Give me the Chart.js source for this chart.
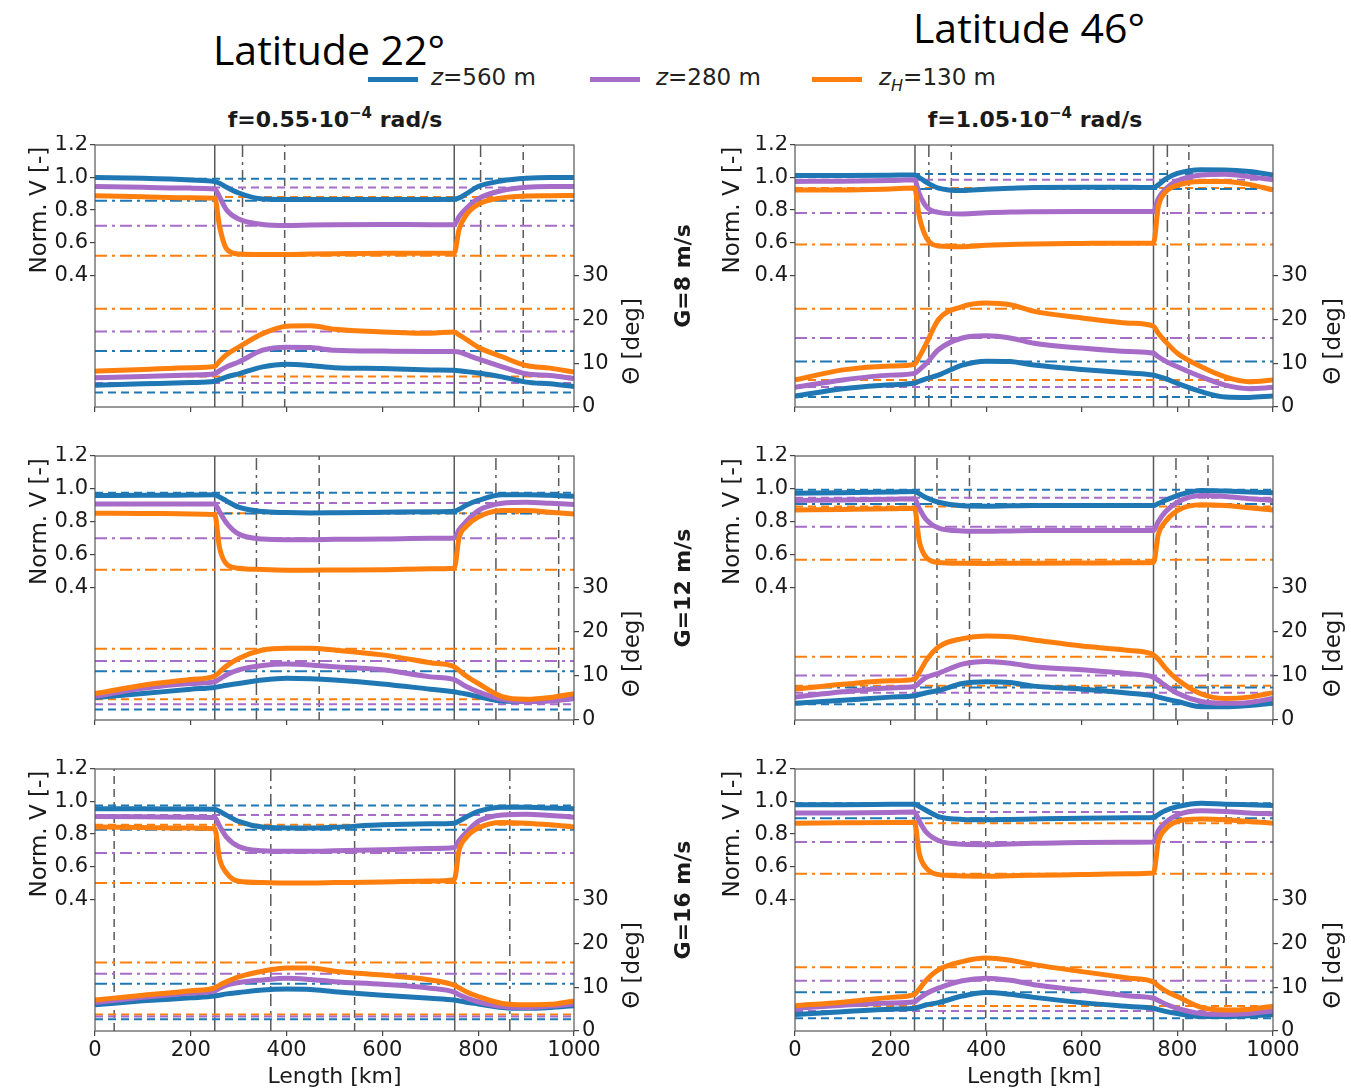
<!DOCTYPE html>
<html>
<head>
<meta charset="utf-8">
<script src="https://cdn.jsdelivr.net/npm/chart.js@4.4.1/dist/chart.umd.min.js"></script>
<style>
  body { margin: 0; background: #fff; width: 1351px; height: 1091px; position: relative; overflow: hidden;
         font-family: "DejaVu Sans", sans-serif; color: #1a1a1a; }
  canvas { position: absolute; }
  .lat { position: absolute; font-family: "Open Sans", sans-serif; font-size: 41px; transform: translateX(-50%); white-space: nowrap; color: #000; }
  .sub { position: absolute; font-weight: bold; font-size: 22px; transform: translate(-50%, -50%); white-space: nowrap; }
  .sub sup { font-size: 15px; }
  .grow { position: absolute; font-weight: bold; font-size: 22px; transform: translate(-50%, -50%) rotate(-90deg); white-space: nowrap; z-index: 2; }
  .lg { position: absolute; height: 5px; width: 50px; top: 77px; }
  .lt { position: absolute; top: 64px; font-size: 23px; white-space: nowrap; color: #222; }
  .lt i { font-style: oblique; }
  .lt sub { font-size: 16px; font-style: oblique; }
</style>
</head>
<body>
<div class="lat" style="left:329px; top:21px;">Latitude 22°</div>
<div class="lat" style="left:1029px; top:-1px;">Latitude 46°</div>

<div class="lg" style="left:368px; background:#1f77b4;"></div>
<div class="lt" style="left:431px;"><i>z</i>=560 m</div>
<div class="lg" style="left:590px; background:#a66cc8;"></div>
<div class="lt" style="left:656px;"><i>z</i>=280 m</div>
<div class="lg" style="left:812px; background:#ff7f0e;"></div>
<div class="lt" style="left:879px;"><i>z</i><sub>H</sub>=130 m</div>

<div class="sub" style="left:335px; top:118px;">f=0.55·10<sup>−4</sup> rad/s</div>
<div class="sub" style="left:1035px; top:118px;">f=1.05·10<sup>−4</sup> rad/s</div>

<div class="grow" style="left:682px; top:276px;">G=8 m/s</div>
<div class="grow" style="left:682px; top:588px;">G=12 m/s</div>
<div class="grow" style="left:682px; top:900px;">G=16 m/s</div>

<canvas id="c22g8" width="680" height="284" style="left:0px; top:135px;"></canvas>
<canvas id="c46g8" width="671" height="284" style="left:680px; top:135px;"></canvas>
<canvas id="c22g12" width="680" height="286" style="left:0px; top:446px;"></canvas>
<canvas id="c46g12" width="671" height="286" style="left:680px; top:446px;"></canvas>
<canvas id="c22g16" width="680" height="332" style="left:0px; top:759px;"></canvas>
<canvas id="c46g16" width="671" height="332" style="left:680px; top:759px;"></canvas>

<script>
// x positions where the curves were read (km)
const lengthKm = [0, 100, 200, 250, 260, 275, 300, 350, 400, 450, 500, 600, 700, 750, 760, 775, 800, 850, 900, 950, 1000];
const lengthTicks = [0, 200, 400, 600, 800, 1000];
const velTicks = [0.4, 0.6, 0.8, 1.0, 1.2];
const thetaTicks = [0, 10, 20, 30];

// latitude 22, G=8
const vel22g8Blue   = [1.0, 0.995, 0.985, 0.975, 0.965, 0.94, 0.905, 0.868, 0.865, 0.865, 0.865, 0.865, 0.865, 0.868, 0.875, 0.9, 0.945, 0.98, 0.995, 1.0, 1.0];
const vel22g8Purple = [0.945, 0.94, 0.935, 0.93, 0.88, 0.8, 0.745, 0.712, 0.705, 0.708, 0.71, 0.712, 0.71, 0.71, 0.76, 0.81, 0.87, 0.92, 0.94, 0.945, 0.945];
const vel22g8Orange = [0.888, 0.882, 0.876, 0.873, 0.7, 0.56, 0.53, 0.527, 0.527, 0.53, 0.532, 0.535, 0.535, 0.537, 0.68, 0.77, 0.835, 0.875, 0.886, 0.888, 0.89];
const th22g8Blue    = [5.0, 5.3, 5.6, 5.9, 6.3, 6.9, 7.6, 9.2, 9.8, 9.5, 9.0, 8.8, 8.5, 8.4, 8.3, 8.1, 7.8, 6.9, 5.7, 5.3, 4.7];
const th22g8Purple  = [6.7, 7.0, 7.3, 7.6, 8.3, 9.2, 10.3, 13.0, 13.7, 13.6, 13.0, 12.8, 12.7, 12.7, 12.6, 12.0, 11.0, 9.2, 7.6, 7.2, 6.5];
const th22g8Orange  = [8.2, 8.6, 9.0, 9.3, 10.5, 12.0, 13.7, 16.8, 18.5, 18.6, 17.8, 17.2, 16.9, 17.2, 16.5, 15.5, 13.7, 11.5, 9.5, 8.9, 8.0];
const refVelDash22g8 = [0.992, 0.939, 0.88];
const refVelDot22g8  = [0.857, 0.704, 0.52];
const refThDash22g8  = [3.3, 5.5, 7.0];
const refThDot22g8   = [12.8, 17.3, 22.5];
const vlineSolid22g8 = [250, 750];
const vlineDot22g8   = [308, 805];
const vlineDash22g8  = [396, 894];

// latitude 46, G=8
const vel46g8Blue   = [1.012, 1.012, 1.014, 1.016, 1.0, 0.97, 0.935, 0.92, 0.928, 0.934, 0.939, 0.94, 0.94, 0.939, 0.955, 0.99, 1.025, 1.048, 1.047, 1.037, 1.016];
const vel46g8Purple = [0.976, 0.978, 0.982, 0.986, 0.9, 0.82, 0.786, 0.776, 0.783, 0.788, 0.79, 0.792, 0.792, 0.792, 0.87, 0.93, 0.98, 1.015, 1.02, 1.005, 0.986];
const vel46g8Orange = [0.924, 0.924, 0.93, 0.935, 0.76, 0.63, 0.58, 0.575, 0.584, 0.588, 0.592, 0.595, 0.597, 0.598, 0.82, 0.91, 0.952, 0.975, 0.976, 0.958, 0.924];
const th46g8Blue    = [2.5, 4.2, 5.1, 5.5, 5.9, 6.5, 7.3, 9.6, 10.5, 10.4, 9.6, 8.6, 7.8, 7.3, 7.0, 6.5, 5.4, 3.5, 2.3, 2.2, 2.5];
const th46g8Purple  = [4.5, 6.2, 7.3, 7.7, 8.5, 10.0, 13.1, 15.8, 16.3, 15.8, 14.6, 13.5, 12.7, 12.3, 11.5, 10.5, 9.2, 6.9, 5.0, 4.2, 4.5];
const th46g8Orange  = [6.2, 8.5, 9.4, 9.8, 11.5, 14.6, 20.0, 23.0, 23.8, 23.4, 21.9, 20.4, 19.2, 18.5, 16.9, 15.0, 12.3, 9.2, 6.9, 5.8, 6.2];
const refVelDash46g8 = [1.022, 0.986, 0.935];
const refVelDot46g8  = [0.93, 0.782, 0.588];
const refThDash46g8  = [2.3, 4.6, 6.2];
const refThDot46g8   = [10.4, 15.8, 22.5];
const vlineSolid46g8 = [251, 750];
const vlineDot46g8   = [280, 779];
const vlineDash46g8  = [327, 824];

// latitude 22, G=12
const vel22g12Blue   = [0.959, 0.96, 0.962, 0.963, 0.95, 0.925, 0.888, 0.861, 0.855, 0.853, 0.854, 0.857, 0.86, 0.863, 0.875, 0.9, 0.929, 0.963, 0.963, 0.96, 0.955];
const vel22g12Purple = [0.908, 0.908, 0.908, 0.908, 0.86, 0.79, 0.724, 0.694, 0.69, 0.69, 0.692, 0.694, 0.698, 0.7, 0.75, 0.8, 0.867, 0.912, 0.918, 0.912, 0.904];
const vel22g12Orange = [0.851, 0.85, 0.847, 0.843, 0.64, 0.54, 0.516, 0.508, 0.504, 0.504, 0.505, 0.506, 0.512, 0.516, 0.7, 0.77, 0.827, 0.867, 0.867, 0.857, 0.847];
const th22g12Blue    = [5.1, 6.0, 7.0, 7.4, 7.6, 7.9, 8.3, 9.1, 9.5, 9.4, 9.1, 8.2, 7.0, 6.4, 6.2, 5.9, 5.3, 4.3, 4.2, 4.5, 4.9];
const th22g12Purple  = [5.4, 7.2, 8.3, 8.7, 9.3, 10.3, 11.4, 12.4, 12.7, 12.5, 12.1, 11.4, 9.8, 9.2, 8.6, 7.6, 6.4, 4.7, 4.2, 4.3, 4.9];
const th22g12Orange  = [6.0, 7.9, 9.2, 10.0, 10.9, 12.3, 14.0, 15.9, 16.3, 16.3, 15.9, 14.8, 13.0, 12.1, 11.3, 10.0, 8.3, 5.3, 4.7, 5.1, 6.0];
const refVelDash22g12 = [0.976, 0.914, 0.851];
const refVelDot22g12  = [0.85, 0.698, 0.506];
const refThDash22g12  = [2.4, 3.6, 4.7];
const refThDot22g12   = [11.1, 13.4, 16.2];
const vlineSolid22g12 = [250, 750];
const vlineDot22g12   = [337, 837];
const vlineDash22g12  = [468, 968];

// latitude 46, G=12
const vel46g12Blue   = [0.973, 0.976, 0.98, 0.984, 0.97, 0.945, 0.918, 0.896, 0.894, 0.896, 0.898, 0.898, 0.898, 0.898, 0.91, 0.93, 0.959, 0.99, 0.986, 0.98, 0.976];
const vel46g12Purple = [0.929, 0.932, 0.936, 0.939, 0.88, 0.81, 0.761, 0.743, 0.741, 0.743, 0.745, 0.745, 0.745, 0.745, 0.8, 0.86, 0.918, 0.959, 0.953, 0.94, 0.929];
const vel46g12Orange = [0.871, 0.874, 0.878, 0.882, 0.68, 0.58, 0.551, 0.546, 0.545, 0.546, 0.546, 0.547, 0.549, 0.551, 0.72, 0.8, 0.867, 0.902, 0.898, 0.885, 0.871];
const th46g12Blue    = [3.8, 4.5, 5.2, 5.5, 5.8, 6.2, 6.7, 8.3, 8.7, 8.5, 7.7, 7.0, 6.1, 5.5, 5.2, 4.8, 4.2, 3.0, 3.0, 3.3, 3.8];
const th46g12Purple  = [5.2, 6.4, 7.3, 7.6, 8.5, 9.7, 10.6, 12.7, 13.3, 12.9, 12.1, 11.4, 10.5, 9.7, 9.0, 7.8, 6.1, 4.2, 3.8, 4.0, 4.9];
const th46g12Orange  = [7.0, 8.1, 8.9, 9.3, 10.8, 13.6, 16.6, 18.5, 19.1, 18.9, 18.2, 16.8, 15.8, 14.8, 13.8, 11.8, 9.2, 5.9, 4.9, 5.2, 6.2];
const refVelDash46g12 = [0.994, 0.945, 0.892];
const refVelDot46g12  = [0.908, 0.769, 0.567];
const refThDash46g12  = [3.6, 6.2, 7.8];
const refThDot46g12   = [7.4, 10.1, 14.4];
const vlineSolid46g12 = [251, 750];
const vlineDot46g12   = [297, 797];
const vlineDash46g12  = [365, 864];

// latitude 22, G=16
const vel22g16Blue   = [0.955, 0.955, 0.954, 0.953, 0.94, 0.915, 0.878, 0.843, 0.838, 0.837, 0.842, 0.857, 0.863, 0.867, 0.88, 0.905, 0.939, 0.965, 0.965, 0.96, 0.955];
const vel22g16Purple = [0.908, 0.906, 0.904, 0.902, 0.85, 0.78, 0.724, 0.698, 0.694, 0.694, 0.697, 0.704, 0.712, 0.718, 0.76, 0.81, 0.878, 0.918, 0.922, 0.914, 0.904];
const vel22g16Orange = [0.843, 0.84, 0.837, 0.833, 0.65, 0.56, 0.51, 0.502, 0.5, 0.5, 0.502, 0.506, 0.512, 0.52, 0.7, 0.78, 0.837, 0.871, 0.867, 0.857, 0.843];
const th22g16Blue    = [6.0, 6.9, 7.6, 8.0, 8.2, 8.5, 8.8, 9.4, 9.6, 9.5, 9.0, 8.2, 7.5, 7.1, 6.9, 6.6, 6.2, 5.4, 5.2, 5.4, 5.8];
const th22g16Purple  = [6.5, 7.7, 8.7, 9.2, 9.8, 10.5, 11.1, 11.7, 12.1, 11.8, 11.3, 10.7, 9.8, 8.9, 8.3, 7.6, 6.7, 5.6, 5.4, 5.7, 6.2];
const th22g16Orange  = [7.1, 8.2, 9.2, 9.9, 10.5, 11.3, 12.4, 13.7, 14.4, 14.4, 13.7, 12.8, 11.7, 10.5, 9.9, 9.0, 7.9, 6.3, 6.0, 6.1, 6.9];
const refVelDash22g16 = [0.976, 0.918, 0.857];
const refVelDot22g16  = [0.827, 0.684, 0.5];
const refThDash22g16  = [2.7, 3.3, 3.8];
const refThDot22g16   = [10.8, 13.1, 15.7];
const vlineSolid22g16 = [250, 751];
const vlineDot22g16   = [367, 866];
const vlineDash22g16  = [40, 542];

// latitude 46, G=16
const vel46g16Blue   = [0.98, 0.981, 0.983, 0.984, 0.97, 0.945, 0.908, 0.89, 0.888, 0.89, 0.893, 0.898, 0.9, 0.902, 0.92, 0.945, 0.969, 0.99, 0.984, 0.98, 0.976];
const vel46g16Purple = [0.929, 0.93, 0.933, 0.935, 0.88, 0.81, 0.761, 0.737, 0.735, 0.739, 0.743, 0.749, 0.75, 0.751, 0.82, 0.87, 0.918, 0.943, 0.939, 0.93, 0.924];
const vel46g16Orange = [0.867, 0.869, 0.871, 0.873, 0.68, 0.59, 0.551, 0.543, 0.541, 0.544, 0.547, 0.551, 0.556, 0.561, 0.75, 0.83, 0.878, 0.892, 0.888, 0.878, 0.867];
const th46g16Blue    = [3.8, 4.4, 5.0, 5.2, 5.5, 6.0, 6.5, 8.0, 8.8, 8.4, 7.7, 6.5, 5.6, 5.2, 4.9, 4.5, 4.0, 3.3, 3.3, 3.5, 3.7];
const th46g16Purple  = [5.2, 5.9, 6.4, 6.7, 7.5, 8.6, 9.8, 11.5, 12.1, 11.6, 10.6, 9.3, 8.0, 7.5, 7.0, 6.2, 5.2, 4.0, 3.8, 4.0, 4.6];
const th46g16Orange  = [5.8, 6.6, 7.7, 8.4, 9.6, 11.7, 14.0, 15.9, 16.7, 16.2, 15.2, 13.6, 12.1, 11.2, 10.3, 9.2, 7.9, 5.4, 4.8, 5.0, 5.7];
const refVelDash46g16 = [0.99, 0.935, 0.867];
const refVelDot46g16  = [0.898, 0.751, 0.557];
const refThDash46g16  = [2.9, 4.6, 5.7];
const refThDot46g16   = [8.9, 11.5, 14.6];
const vlineSolid46g16 = [250, 750];
const vlineDot46g16   = [310, 812];
const vlineDash46g16  = [399, 902];

// colours (blue, purple, orange) and axis ranges
const colors = ['#1f77b4', '#a66cc8', '#ff7f0e'];
const velMin = -0.41, velMax = 1.2;
const thetaMin = 0, thetaMax = 60;

const DASH = [8, 5];
const DASHDOT = [12, 5, 3, 5];
const TICK_FONT = { family: 'DejaVu Sans', size: 21 };

function curve(values, color, axis) {
    return {
        data: lengthKm.map((x, i) => ({ x: x, y: values[i] })),
        borderColor: color, borderWidth: 5, pointRadius: 0,
        cubicInterpolationMode: 'monotone', yAxisID: axis, fill: false
    };
}
function hline(v, color, dash, axis) {
    return {
        data: [{ x: 0, y: v }, { x: 1000, y: v }],
        borderColor: color, borderWidth: 2, borderDash: dash, pointRadius: 0, yAxisID: axis, fill: false
    };
}
function vline(x, dash) {
    return {
        data: [{ x: x, y: velMin }, { x: x, y: velMax }],
        borderColor: '#5a5a5a', borderWidth: 1.5, borderDash: dash, pointRadius: 0, yAxisID: 'y', fill: false
    };
}

// axis titles sit on the part of the axis that carries ticks, so they are drawn here
const framePlugin = {
    id: 'frame',
    afterDraw(chart, args, opts) {
        const { ctx, chartArea: a } = chart;
        ctx.save();
        ctx.strokeStyle = '#555';
        ctx.lineWidth = 1.2;
        ctx.strokeRect(a.left, a.top, a.right - a.left, a.bottom - a.top);
        ctx.fillStyle = '#1a1a1a';
        ctx.font = '23px "DejaVu Sans"';
        ctx.textAlign = 'center';
        ctx.textBaseline = 'middle';
        const texts = [['Norm. V [-]', opts.velX, chart.scales.y.getPixelForValue(0.8)],
                       ['Θ [deg]', opts.thetaX, chart.scales.y2.getPixelForValue(15)]];
        texts.forEach(([t, x, y]) => {
            ctx.save();
            ctx.translate(x, y);
            ctx.rotate(-Math.PI / 2);
            ctx.fillText(t, 0, 0);
            ctx.restore();
        });
        ctx.restore();
    }
};

function makePanel(id, col, bottomRow, vel, theta, refVelDash, refVelDot, refThDash, refThDot, vSolid, vDot, vDash) {
    const datasets = [];
    // main curves on top (first dataset is drawn last)
    [2, 1, 0].forEach(i => datasets.push(curve(vel[i], colors[i], 'y')));
    [2, 1, 0].forEach(i => datasets.push(curve(theta[i], colors[i], 'y2')));
    [0, 1, 2].forEach(i => {
        datasets.push(hline(refVelDash[i], colors[i], DASH, 'y'));
        datasets.push(hline(refVelDot[i], colors[i], DASHDOT, 'y'));
        datasets.push(hline(refThDash[i], colors[i], DASH, 'y2'));
        datasets.push(hline(refThDot[i], colors[i], DASHDOT, 'y2'));
    });
    vSolid.forEach(x => datasets.push(vline(x, [])));
    vDot.forEach(x => datasets.push(vline(x, DASHDOT)));
    vDash.forEach(x => datasets.push(vline(x, DASH)));

    const leftW = col === 0 ? 95 : 115;
    const rightW = col === 0 ? 106 : 78;
    const gridOpts = { drawOnChartArea: false, drawTicks: true, tickLength: 5, color: '#444', lineWidth: 1.2 };

    new Chart(document.getElementById(id), {
        type: 'line',
        data: { datasets: datasets },
        plugins: [framePlugin],
        options: {
            responsive: false,
            animation: false,
            layout: { padding: { top: 10, left: 0, right: 0, bottom: 0 } },
            plugins: {
                legend: { display: false },
                tooltip: { enabled: false },
                frame: { velX: col === 0 ? 40 : 53, thetaX: col === 0 ? 633 : 654 }
            },
            scales: {
                x: {
                    type: 'linear', min: 0, max: 1000,
                    afterBuildTicks: axis => { axis.ticks = lengthTicks.map(v => ({ value: v })); },
                    ticks: { display: bottomRow, font: TICK_FONT, color: '#1a1a1a', padding: 2, maxRotation: 0, callback: v => String(v) },
                    grid: gridOpts,
                    border: { display: false },
                    title: { display: bottomRow, text: 'Length [km]', font: { family: 'DejaVu Sans', size: 22 }, color: '#1a1a1a', padding: { top: 0, bottom: 1 } },
                    afterFit: s => { s.height = bottomRow ? 60 : 12; s.paddingLeft = 0; s.paddingRight = 0; }
                },
                y: {
                    type: 'linear', position: 'left', min: velMin, max: velMax,
                    afterBuildTicks: axis => { axis.ticks = velTicks.map(v => ({ value: v })); },
                    ticks: { font: TICK_FONT, color: '#1a1a1a', padding: 2, callback: v => v.toFixed(1) },
                    grid: gridOpts,
                    border: { display: false },
                    afterFit: s => { s.width = leftW; s.paddingTop = 0; s.paddingBottom = 0; }
                },
                y2: {
                    type: 'linear', position: 'right', min: thetaMin, max: thetaMax,
                    afterBuildTicks: axis => { axis.ticks = thetaTicks.map(v => ({ value: v })); },
                    ticks: { font: TICK_FONT, color: '#1a1a1a', padding: 3, callback: v => String(v) },
                    grid: gridOpts,
                    border: { display: false },
                    afterFit: s => { s.width = rightW; s.paddingTop = 0; s.paddingBottom = 0; }
                }
            }
        }
    });
}

makePanel('c22g8', 0, false,
    [vel22g8Blue, vel22g8Purple, vel22g8Orange], [th22g8Blue, th22g8Purple, th22g8Orange],
    refVelDash22g8, refVelDot22g8, refThDash22g8, refThDot22g8, vlineSolid22g8, vlineDot22g8, vlineDash22g8);
makePanel('c46g8', 1, false,
    [vel46g8Blue, vel46g8Purple, vel46g8Orange], [th46g8Blue, th46g8Purple, th46g8Orange],
    refVelDash46g8, refVelDot46g8, refThDash46g8, refThDot46g8, vlineSolid46g8, vlineDot46g8, vlineDash46g8);
makePanel('c22g12', 0, false,
    [vel22g12Blue, vel22g12Purple, vel22g12Orange], [th22g12Blue, th22g12Purple, th22g12Orange],
    refVelDash22g12, refVelDot22g12, refThDash22g12, refThDot22g12, vlineSolid22g12, vlineDot22g12, vlineDash22g12);
makePanel('c46g12', 1, false,
    [vel46g12Blue, vel46g12Purple, vel46g12Orange], [th46g12Blue, th46g12Purple, th46g12Orange],
    refVelDash46g12, refVelDot46g12, refThDash46g12, refThDot46g12, vlineSolid46g12, vlineDot46g12, vlineDash46g12);
makePanel('c22g16', 0, true,
    [vel22g16Blue, vel22g16Purple, vel22g16Orange], [th22g16Blue, th22g16Purple, th22g16Orange],
    refVelDash22g16, refVelDot22g16, refThDash22g16, refThDot22g16, vlineSolid22g16, vlineDot22g16, vlineDash22g16);
makePanel('c46g16', 1, true,
    [vel46g16Blue, vel46g16Purple, vel46g16Orange], [th46g16Blue, th46g16Purple, th46g16Orange],
    refVelDash46g16, refVelDot46g16, refThDash46g16, refThDot46g16, vlineSolid46g16, vlineDot46g16, vlineDash46g16);
</script>
</body>
</html>
